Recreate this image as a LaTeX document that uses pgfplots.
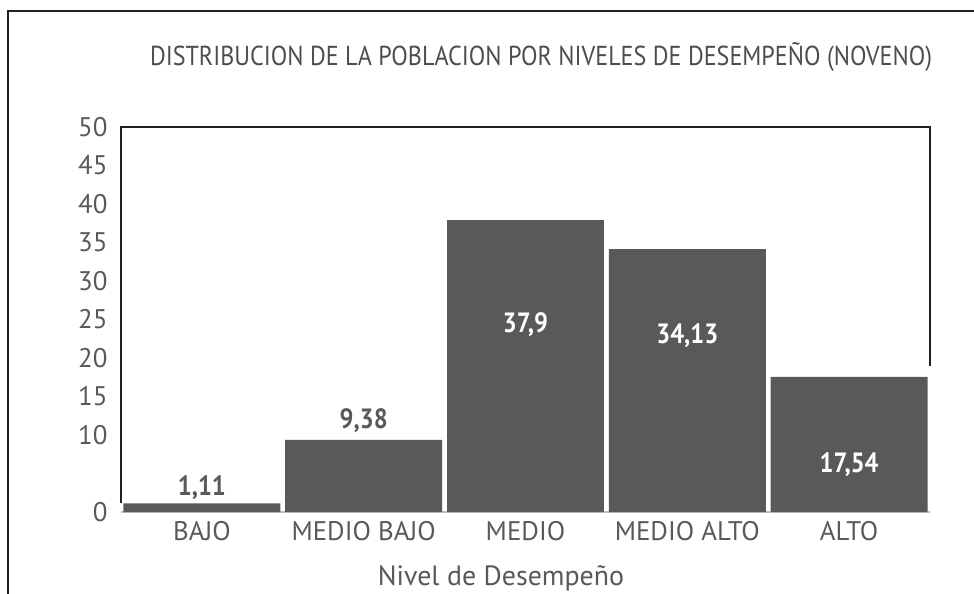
\documentclass[border=0pt]{standalone}
\usepackage{pgfplots}
\pgfplotsset{compat=1.18}
\usepackage{fontspec}
\setmainfont{PT Sans}
\definecolor{barc}{HTML}{58595B}
\definecolor{txt}{HTML}{58595B}
\definecolor{ttl}{HTML}{4D4D4F}
\definecolor{ln}{HTML}{231F20}
\begin{document}
\begin{tikzpicture}[x=1bp,y=1bp]
\path[use as bounding box] (0,0) rectangle (974,-594);
\draw[ln, line width=2.5bp] (8,-594) -- (8,-11) -- (974,-11);
\node[text=ttl, font=\fontsize{27.5}{32}\selectfont, xscale=0.88] at (541,-57) {DISTRIBUCION DE LA POBLACION POR NIVELES DE DESEMPEÑO (NOVENO)};
\begin{axis}[at={(121bp,-512bp)}, anchor=south west, scale only axis,
  width=809bp, height=385bp, xmin=-0.5, xmax=4.5, ymin=0, ymax=50,
  clip=false, axis line style={draw=none}, major tick length=0pt,
  ytick={0,10,15,...,50},
  xtick={0,1,2,3,4},
  xticklabels={BAJO,MEDIO BAJO,MEDIO,MEDIO ALTO,ALTO},
  ticklabel style={font=\fontsize{27}{31}\selectfont, text=txt},
  yticklabel style={xshift=-10bp},
  xticklabel style={yshift=-6bp},
  /pgf/number format/assume math mode=true,
]
\draw[gray!50, line width=1.5bp] (axis cs:-0.5,0) -- (axis cs:4.5,0);
\addplot[ybar, bar width=0.97, fill=barc, draw=none] coordinates {(0,1.11)(1,9.38)(2,37.9)(3,34.13)(4,17.54)};
\draw[ln, line width=2bp] (axis cs:-0.5,1.11) -- (axis cs:-0.5,50) -- (axis cs:4.5,50) -- (axis cs:4.5,19);
\tikzset{dl/.style={font=\fontsize{28}{32}\selectfont\bfseries, xscale=0.88}}
\node[text=txt, dl, anchor=south] at (axis cs:0,1.2) {1,11};
\node[text=txt, dl, anchor=south] at (axis cs:1,9.8) {9,38};
\node[text=white, dl] at (axis cs:2,24.3) {37,9};
\node[text=white, dl] at (axis cs:3,22.9) {34,13};
\node[text=white, dl] at (axis cs:4,6.1) {17,54};
\end{axis}
\node[text=txt, font=\fontsize{28}{32}\selectfont] at (501,-578) {Nivel de Desempeño};
\end{tikzpicture}
\end{document}
